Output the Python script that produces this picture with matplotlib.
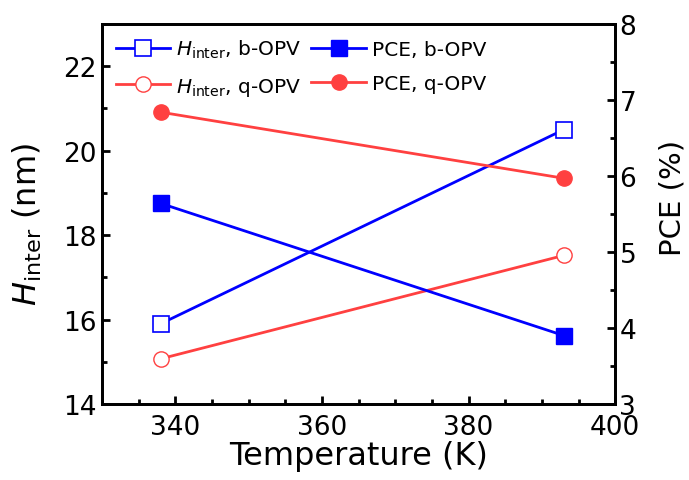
import matplotlib
matplotlib.use("Agg")
import matplotlib.pyplot as plt
from matplotlib.ticker import MultipleLocator

# temperature (K)
temp = [338, 393]
# H_inter (nm), left axis
h_b = [15.9, 20.5]
h_q = [15.07, 17.52]
# PCE (%), right axis
pce_b = [5.64, 3.9]
pce_q = [6.84, 5.97]

BLUE = "#0000ff"
RED = "#ff4040"

plt.rcParams["font.family"] = "DejaVu Sans"
plt.rcParams["mathtext.fontset"] = "dejavusans"

fig = plt.figure(figsize=(6.89, 4.81), dpi=100)
ax1 = fig.add_axes([0.148, 0.158, 0.745, 0.79])
ax2 = ax1.twinx()

ms = 11
l1, = ax1.plot(temp, h_b, color=BLUE, lw=2, marker="s", ms=ms,
               mfc="white", mec=BLUE, mew=1.2, label=r"$H_\mathrm{inter}$, b-OPV")
l2, = ax1.plot(temp, h_q, color=RED, lw=2, marker="o", ms=ms,
               mfc="white", mec=RED, mew=1.0, label=r"$H_\mathrm{inter}$, q-OPV")
l3, = ax2.plot(temp, pce_b, color=BLUE, lw=2, marker="s", ms=ms,
               mfc=BLUE, mec=BLUE, label="PCE, b-OPV")
l4, = ax2.plot(temp, pce_q, color=RED, lw=2, marker="o", ms=ms,
               mfc=RED, mec=RED, label="PCE, q-OPV")

ax1.set_xlim(330, 400)
ax1.set_ylim(14, 23)
ax2.set_ylim(3, 8)

ax1.xaxis.set_major_locator(MultipleLocator(20))
ax1.xaxis.set_minor_locator(MultipleLocator(5))
ax1.yaxis.set_major_locator(MultipleLocator(2))
ax1.yaxis.set_minor_locator(MultipleLocator(1))
ax2.yaxis.set_major_locator(MultipleLocator(1))
ax2.yaxis.set_minor_locator(MultipleLocator(0.5))

for ax in (ax1, ax2):
    for s in ax.spines.values():
        s.set_linewidth(2)
    ax.tick_params(which="major", direction="in", length=6, width=2, labelsize=19)
    ax.tick_params(which="minor", direction="in", length=3.5, width=2)
ax1.tick_params(axis="x", pad=7)
ax2.tick_params(axis="y", pad=3)

ax1.set_xlabel("Temperature (K)", fontsize=23, labelpad=0)
ax1.set_ylabel(r"$H_\mathrm{inter}$ (nm)", fontsize=23)
ax2.set_ylabel("PCE (%)", fontsize=21)
ax1.yaxis.set_label_coords(-0.112, 0.474)
ax2.yaxis.set_label_coords(1.085, 0.545)

ax1.legend(handles=[l1, l2, l3, l4], ncol=2, loc="upper left",
           bbox_to_anchor=(0.0, 1.0), frameon=False, fontsize=14.5,
           handlelength=2.7, handletextpad=0.3, columnspacing=0.5,
           labelspacing=0.75, borderaxespad=0.3)

fig.savefig("out.png", dpi=100)
